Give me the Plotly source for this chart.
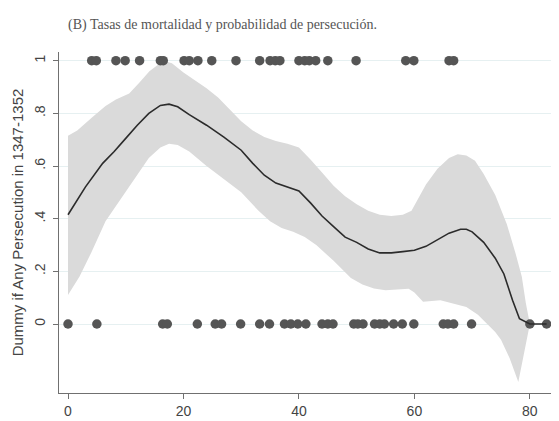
import plotly.graph_objects as go

# Observed outcomes (dummy = 1 / dummy = 0) by mortality rate
x_ones = [4.1, 4.9, 8.3, 9.9, 12.4, 16.0, 16.5, 20.1, 21.0, 22.5, 24.9, 29.1,
          33.2, 35.0, 35.9, 36.7, 40.0, 41.0, 41.8, 42.9, 45.0, 49.9,
          58.5, 59.9, 66.0, 66.8]
x_zeros = [0.0, 5.0, 16.4, 17.2, 22.4, 25.5, 26.6, 29.9, 33.2, 34.9, 37.5, 38.6,
           39.8, 41.2, 44.0, 45.0, 45.9, 49.5, 50.2, 51.1, 53.1, 54.0, 54.8,
           56.4, 57.9, 59.9, 65.0, 65.8, 66.8, 69.9, 80.0, 82.9]

# Local polynomial fit
fit_x = [0, 3, 6, 8, 10, 12, 14, 16, 17.5, 19, 21, 24, 27, 30, 32, 34, 36, 38, 40,
         42, 44, 46, 48, 50, 52, 54, 56, 58, 60, 62, 64, 66, 68, 69, 70, 72, 74,
         75.5, 77, 78.2, 80, 82.9]
fit_y = [0.415, 0.52, 0.61, 0.655, 0.705, 0.755, 0.80, 0.83, 0.835, 0.825, 0.795,
         0.755, 0.71, 0.66, 0.61, 0.565, 0.535, 0.52, 0.505, 0.46, 0.41, 0.37, 0.33,
         0.31, 0.285, 0.27, 0.27, 0.275, 0.28, 0.295, 0.32, 0.345, 0.36, 0.36, 0.35,
         0.31, 0.25, 0.19, 0.09, 0.02, 0.0, 0.0]

# 95% confidence band
ci_upper_x = [0, 1.6, 4.2, 6.5, 8.3, 10.6, 12.3, 14.1, 16.5, 18, 20, 22, 24, 26, 28,
              30, 32, 34, 36, 38, 40, 42, 44, 46, 48, 50, 52, 54, 56, 58, 59.5, 60.5,
              62, 64, 66, 67.5, 69, 70.5, 72, 74, 76, 77.5, 78.6, 79.3, 80, 82.9]
ci_upper_y = [0.715, 0.735, 0.785, 0.828, 0.853, 0.875, 0.915, 0.96, 1.0, 0.99, 0.955,
              0.925, 0.895, 0.86, 0.815, 0.77, 0.735, 0.71, 0.695, 0.685, 0.67, 0.625,
              0.575, 0.525, 0.485, 0.455, 0.43, 0.415, 0.41, 0.415, 0.43, 0.47, 0.53,
              0.59, 0.63, 0.645, 0.64, 0.62, 0.57, 0.49, 0.38, 0.27, 0.18, 0.08, 0.0, 0.0]
ci_lower_x = [0, 2, 4, 6.5, 9, 11, 14, 16, 17.5, 19, 21, 24, 27, 30, 33, 35, 37, 39,
              41, 43, 46, 49, 51, 53, 55, 57, 59, 60, 61.5, 64.5, 67, 69, 71, 72, 74,
              75, 76.5, 78, 79, 80, 82.9]
ci_lower_y = [0.11, 0.18, 0.27, 0.39, 0.47, 0.535, 0.63, 0.67, 0.685, 0.68, 0.655,
              0.6, 0.55, 0.5, 0.43, 0.39, 0.365, 0.35, 0.33, 0.3, 0.24, 0.175, 0.15,
              0.135, 0.128, 0.132, 0.134, 0.12, 0.085, 0.09, 0.075, 0.065, 0.035, 0.015,
              -0.03, -0.06, -0.13, -0.22, -0.11, 0.0, 0.0]

y_tickvals = [0, 0.2, 0.4, 0.6, 0.8, 1]
y_ticktext = ["0", ".2", ".4", ".6", ".8", "1"]
x_tickvals = [0, 20, 40, 60, 80]

title_text = "(B) Tasas de mortalidad y probabilidad de persecución."
y_title = "Dummy if Any Persecution in 1347-1352"

# the page body adds an 8 px margin, so the figure is drawn 8 px smaller
W, H = 551, 413

fig = go.Figure()
fig.add_trace(go.Scatter(
    x=ci_upper_x + ci_lower_x[::-1],
    y=ci_upper_y + ci_lower_y[::-1],
    fill="toself", fillcolor="#dadada", line=dict(width=0),
    mode="lines", hoverinfo="skip", showlegend=False))
fig.add_trace(go.Scatter(
    x=x_ones, y=[1] * len(x_ones), mode="markers",
    marker=dict(size=9.5, color="#555555"), showlegend=False))
fig.add_trace(go.Scatter(
    x=x_zeros, y=[0] * len(x_zeros), mode="markers",
    marker=dict(size=9.5, color="#555555"), showlegend=False))
fig.add_trace(go.Scatter(
    x=fit_x, y=fit_y, mode="lines",
    line=dict(color="#2b2b2b", width=1.6), showlegend=False))

fig.update_layout(
    width=W, height=H,
    margin=dict(l=51, r=2, t=44, b=24),
    paper_bgcolor="white", plot_bgcolor="white",
    font=dict(family="Liberation Sans, Arial, sans-serif", color="#444444", size=14),
    title=dict(text=title_text, xref="container", yref="container",
               x=60 / W, xanchor="left", y=1 - 16 / H, yanchor="middle",
               font=dict(family="Liberation Serif, serif", size=14, color="#555555")),
    xaxis=dict(range=[-1.56, 84.7], tickvals=x_tickvals, showgrid=False,
               zeroline=False, showline=True, linecolor="#707070", linewidth=1.3,
               ticks="outside", ticklen=5, tickcolor="#707070", tickwidth=1.2,
               tickfont=dict(size=14, color="#444444")),
    yaxis=dict(range=[-0.262, 1.033], tickvals=y_tickvals, ticktext=y_ticktext,
               tickangle=-90, showgrid=True, gridcolor="#e6f0f1", gridwidth=1,
               zeroline=False, showline=True, linecolor="#707070", linewidth=1.3,
               ticks="outside", ticklen=5, tickcolor="#707070", tickwidth=1.2,
               ticklabelstandoff=2,
               tickfont=dict(size=14, color="#444444"),
               title=dict(text=y_title, standoff=5,
                          font=dict(size=15, color="#444444"))),
)

fig.write_html("out.html")
